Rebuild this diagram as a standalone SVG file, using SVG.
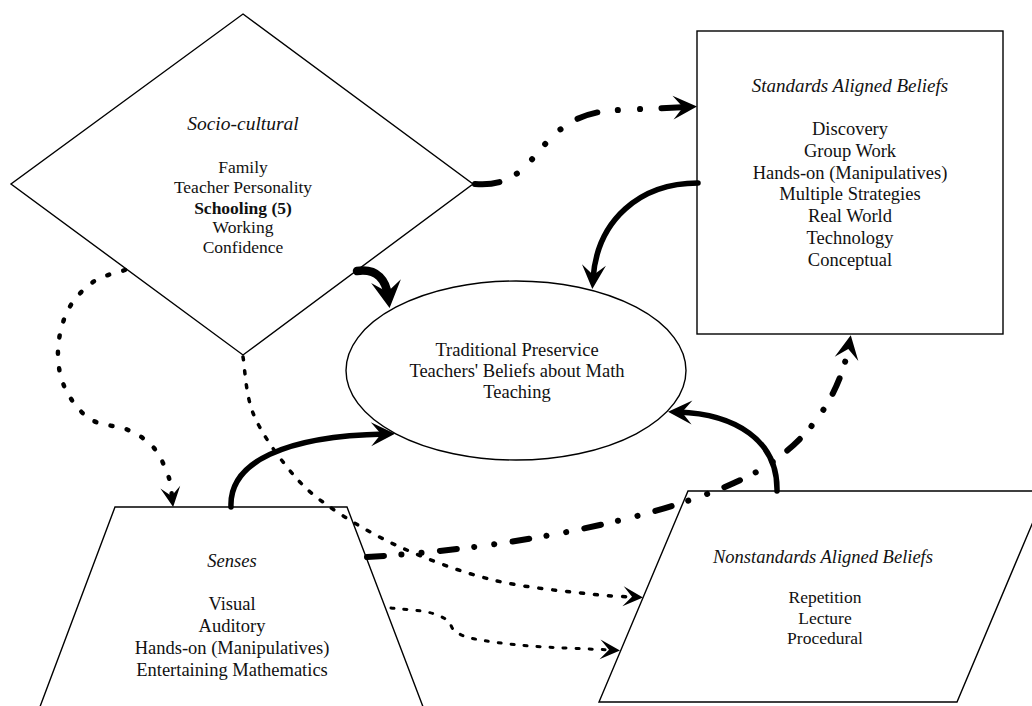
<svg xmlns="http://www.w3.org/2000/svg" width="1032" height="706" viewBox="0 0 1032 706">
  <style>
    .shape { fill: #fff; stroke: #000; stroke-width: 1.4; }
    text { font-family: "Liberation Serif", "Times New Roman", serif; fill: #111; text-anchor: middle; }
    .title { font-style: italic; }
    .body { font-size: 18.5px; }
    .small { font-size: 17.5px; }
    .b { font-weight: bold; }
    .conn { fill: none; stroke: #000; }
    .solid { stroke-width: 5.5; stroke-linecap: round; }
    .dashdot { stroke-width: 6; stroke-linecap: round; }
    .dots { stroke-linecap: round; }
  </style>
  <defs>
    <marker id="ah" markerUnits="userSpaceOnUse" markerWidth="30" markerHeight="30" refX="-10" refY="0" orient="auto" overflow="visible">
      <path d="M0,0 L-24,-12 L-14,0 L-24,12 Z" fill="#000"/>
    </marker>
    <marker id="ah-big" markerUnits="userSpaceOnUse" markerWidth="30" markerHeight="30" refX="-12" refY="0" orient="auto" overflow="visible">
      <path d="M0,0 L-27,-15 L-16,0 L-27,15 Z" fill="#000"/>
    </marker>
    <marker id="ah-small" markerUnits="userSpaceOnUse" markerWidth="30" markerHeight="30" refX="-8" refY="0" orient="auto" overflow="visible">
      <path d="M0,0 L-20,-10 L-11,0 L-20,10 Z" fill="#000"/>
    </marker>
  </defs>

  <rect width="1032" height="706" fill="#fff"/>

  <!-- Socio-cultural influences -->
  <g id="socio-cultural">
    <polygon class="shape" points="243,14 473,184 243,355 11,184"/>
    <text class="title" x="243" y="130" font-size="19.5">Socio-cultural</text>
    <text class="small" x="243" y="173">Family</text>
    <text class="small" x="243" y="193">Teacher Personality</text>
    <text class="small b" x="243" y="214">Schooling (5)</text>
    <text class="small" x="243" y="233">Working</text>
    <text class="small" x="243" y="253">Confidence</text>
  </g>

  <!-- Standards aligned beliefs -->
  <g id="standards">
    <rect class="shape" x="697" y="31" width="306" height="303"/>
    <text class="title" x="850" y="92" font-size="19">Standards Aligned Beliefs</text>
    <text class="body" x="850" y="135">Discovery</text>
    <text class="body" x="850" y="157">Group Work</text>
    <text class="body" x="850" y="179">Hands-on (Manipulatives)</text>
    <text class="body" x="850" y="200">Multiple Strategies</text>
    <text class="body" x="850" y="222">Real World</text>
    <text class="body" x="850" y="244">Technology</text>
    <text class="body" x="850" y="266">Conceptual</text>
  </g>

  <!-- Central beliefs -->
  <g id="traditional">
    <ellipse class="shape" cx="516" cy="370.5" rx="170" ry="89.5"/>
    <text class="body" x="517" y="356">Traditional Preservice</text>
    <text class="body" x="517" y="377">Teachers' Beliefs about Math</text>
    <text class="body" x="517" y="398">Teaching</text>
  </g>

  <!-- Senses -->
  <g id="senses">
    <polygon class="shape" points="115,507 347,507 425,712 38,712"/>
    <text class="title" x="232" y="567" font-size="18.5">Senses</text>
    <text class="body" x="232" y="610">Visual</text>
    <text class="body" x="232" y="632">Auditory</text>
    <text class="body" x="232" y="654">Hands-on (Manipulatives)</text>
    <text class="body" x="232" y="676">Entertaining Mathematics</text>
  </g>

  <!-- Nonstandards aligned beliefs -->
  <g id="nonstandards">
    <polygon class="shape" points="688,491 1046,491 957,702 599,702"/>
    <text class="title" x="823" y="563" font-size="18.5">Nonstandards Aligned Beliefs</text>
    <text class="small" x="825" y="603">Repetition</text>
    <text class="small" x="825" y="624">Lecture</text>
    <text class="small" x="825" y="644">Procedural</text>
  </g>

  <!-- Connectors -->
  <g id="connectors">
    <!-- socio-cultural to standards -->
    <path class="conn dashdot" d="M475,184 C545,190 530,112 620,110 L687,107"
          stroke-dasharray="24.5 19.5 0.1 21 0.1 20 0.1 21 0.1 20.1 21 20.5 0.1 22 0.1 21.4 100" marker-end="url(#ah)"/>
    <!-- standards to traditional -->
    <path class="conn solid" d="M698,183 C640,183 597,220 593,279" marker-end="url(#ah)"/>
    <!-- socio-cultural to traditional -->
    <path class="conn" d="M357,271 C378,268 386,281 388,296" stroke-width="8.5" stroke-linecap="round" marker-end="url(#ah-big)"/>
    <!-- senses to traditional -->
    <path class="conn solid" d="M231,507 C229,462 285,436 385,434" marker-end="url(#ah)"/>
    <!-- nonstandards to traditional -->
    <path class="conn solid" d="M777,491 C778,440 735,414 678,412" marker-end="url(#ah)"/>
    <!-- senses to standards -->
    <path class="conn dashdot" d="M367,557 C520,548 680,515 760,470 C810,440 840,395 849,345"
          stroke-dasharray="17 17.5 0.1 20 0.1 18.4" marker-end="url(#ah)"/>
    <!-- socio-cultural to senses -->
    <path class="conn dots" stroke-width="4.5" stroke-dasharray="2 14.5"
          d="M125,270 C119.7,272 102.5,275.3 93,282 C83.5,288.7 73.8,298.7 68,310 C62.2,321.3 58.5,337 58,350 C57.5,363 59.7,376.5 65,388 C70.3,399.5 79.5,412 90,419 C100.5,426 117.3,425.2 128,430 C138.7,434.8 147.2,440 154,448 C160.8,456 166,469.5 169,478 C172,486.5 171.5,495.5 172,499"
          marker-end="url(#ah-small)"/>
    <!-- socio-cultural to nonstandards -->
    <path class="conn dots" stroke-width="3.5" stroke-dasharray="3 11"
          d="M243,357 C244.7,366.3 245.7,394.7 253,413 C260.3,431.3 274.7,451.7 287,467 C299.3,482.3 308.2,491.7 327,505 C345.8,518.3 372.3,534.5 400,547 C427.7,559.5 461.3,572.2 493,580 C524.7,587.8 566.3,591.2 590,594 C613.7,596.8 627.5,596.5 635,597"
          marker-end="url(#ah-small)"/>
    <!-- senses to nonstandards -->
    <path class="conn dots" stroke-width="3" stroke-dasharray="3 10"
          d="M391,608 C397,608.7 417.7,610 427,612 C436.3,614 442.3,616.8 447,620 C451.7,623.2 450.3,627.8 455,631 C459.7,634.2 462.5,636.5 475,639 C487.5,641.5 507.2,644.2 530,646 C552.8,647.8 598.3,649.3 612,650"
          marker-end="url(#ah-small)"/>
  </g>
</svg>
